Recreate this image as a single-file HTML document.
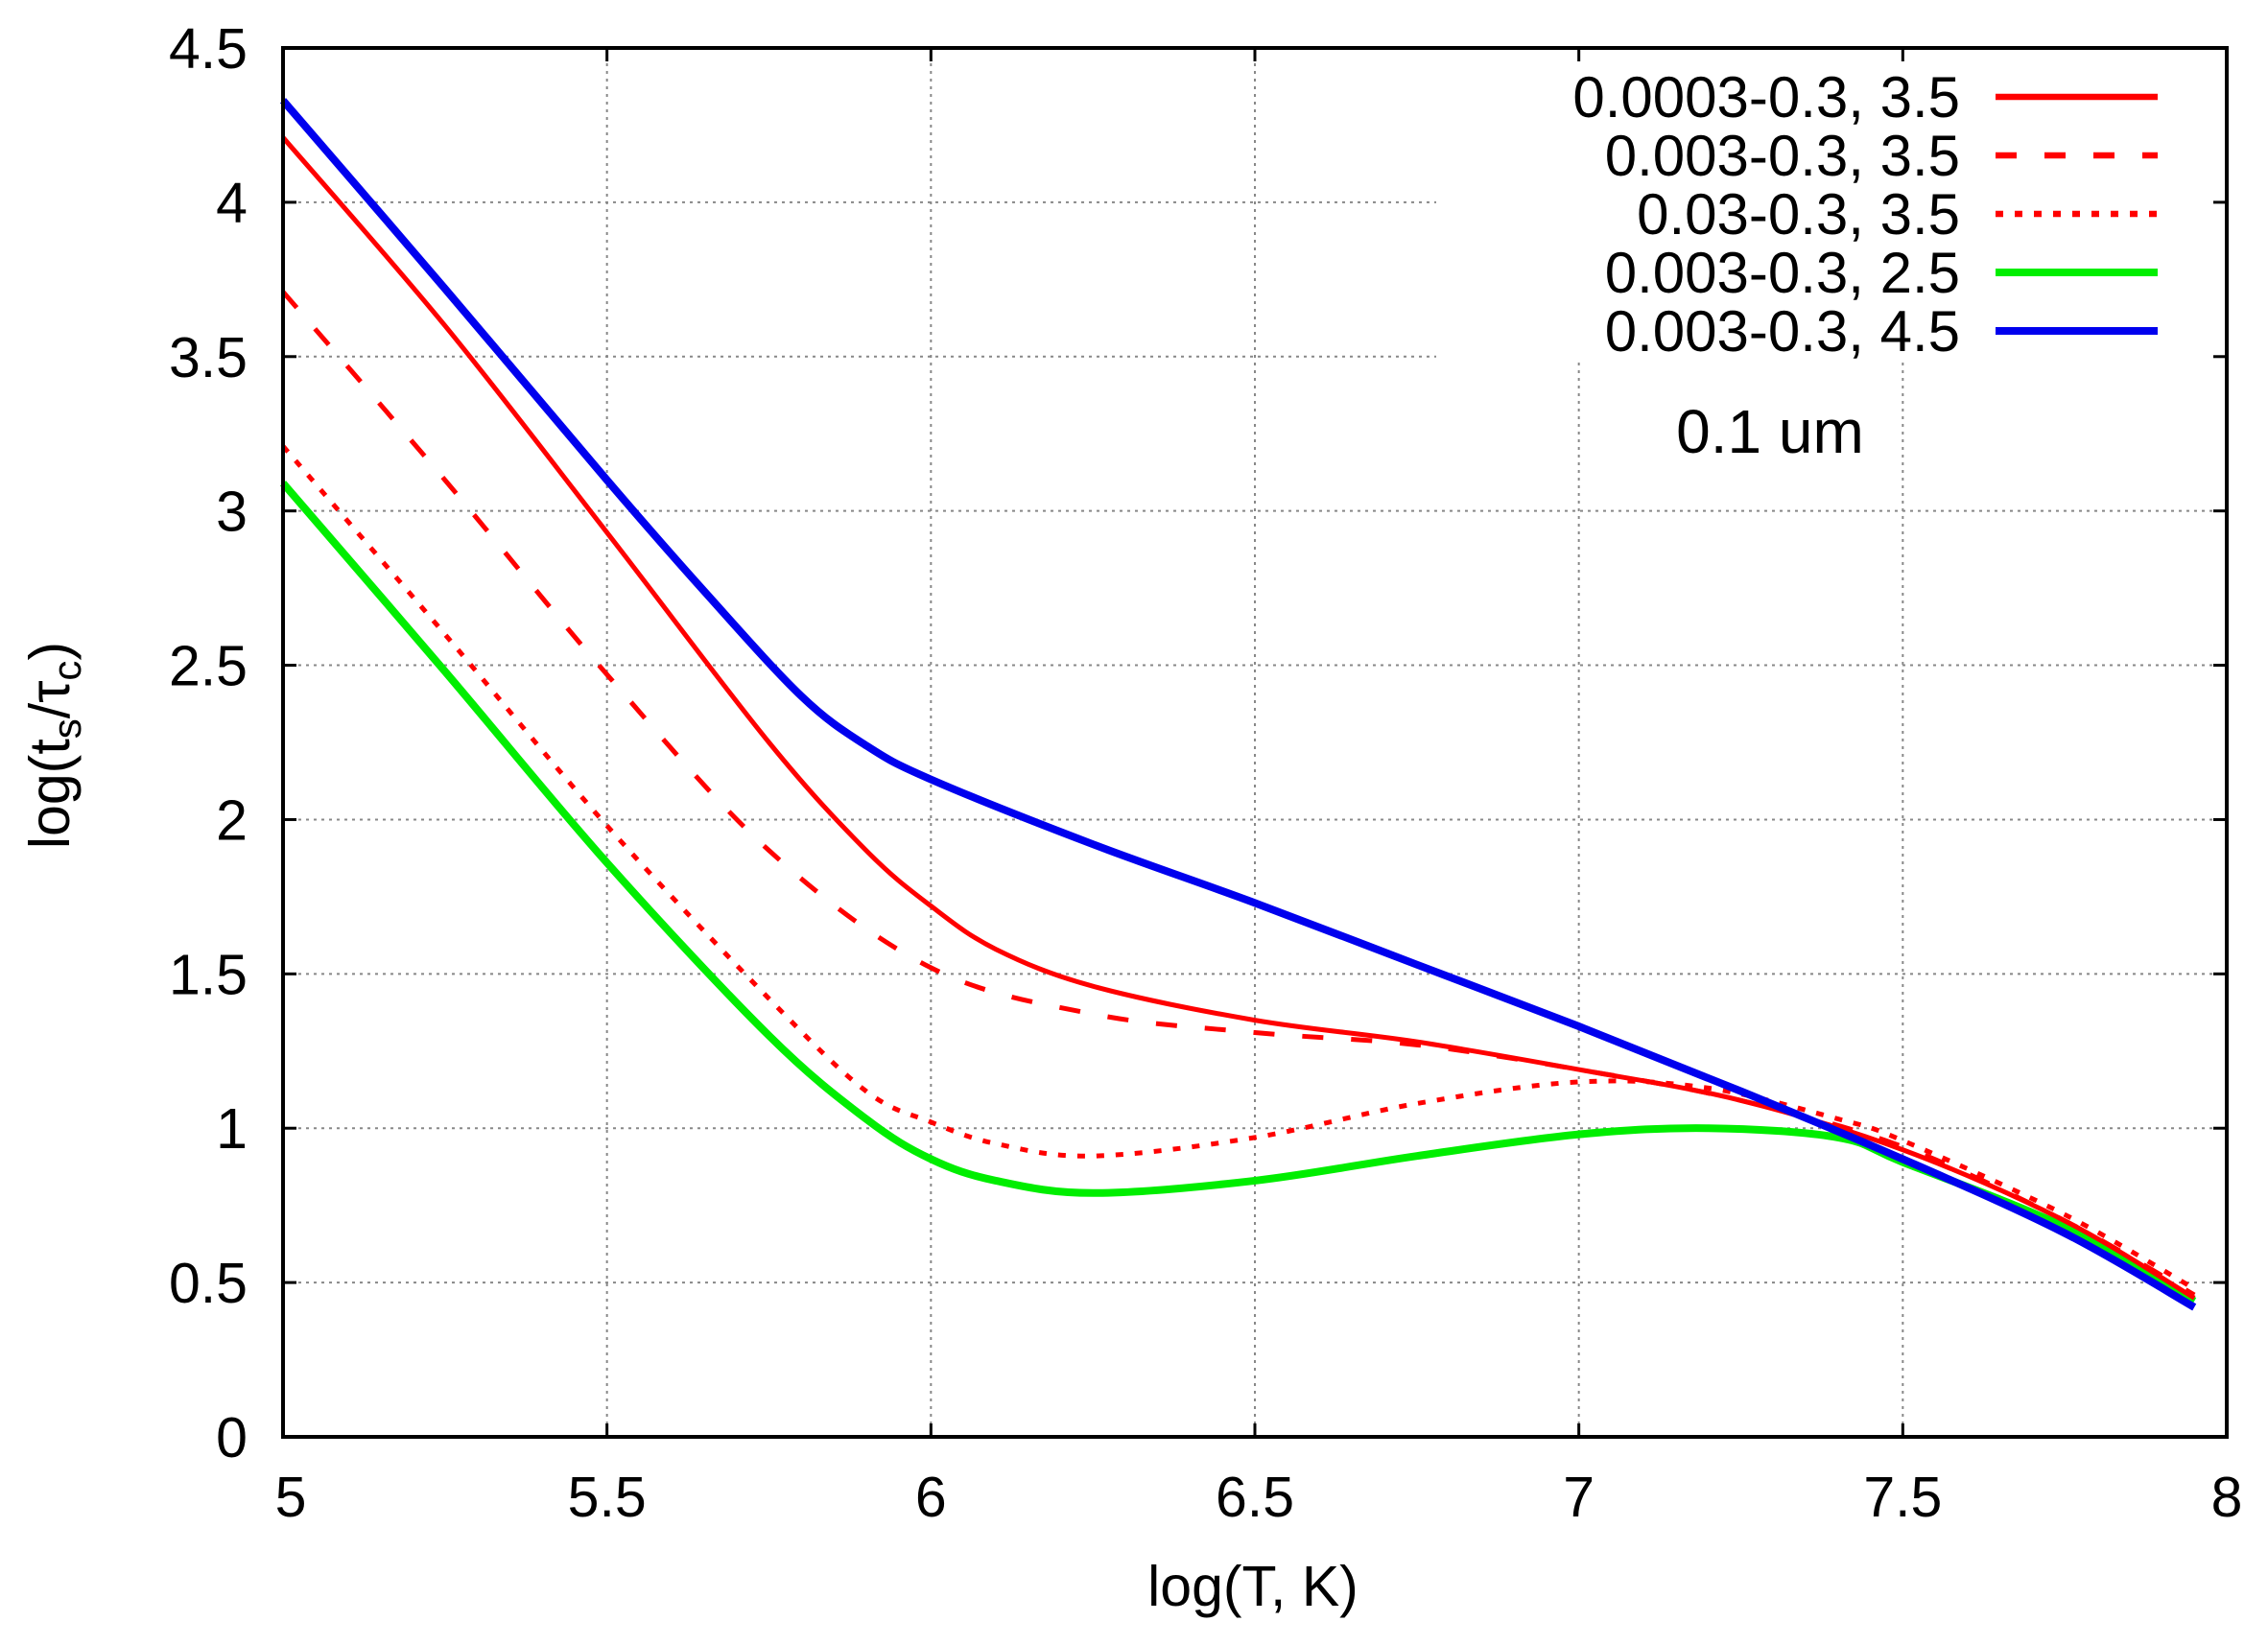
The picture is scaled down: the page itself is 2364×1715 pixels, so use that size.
<!DOCTYPE html>
<html><head><meta charset="utf-8"><style>
body{margin:0;background:#fff}
svg text{font-family:"Liberation Sans",sans-serif;fill:#000}
</style></head><body>
<svg id="chart" width="2364" height="1710" xmlns="http://www.w3.org/2000/svg">
<g id="grid"></g>
<rect x="1497" y="53" width="821" height="321" fill="#fff"/>
<g id="series"></g>
<rect x="295" y="50" width="2026" height="1448" fill="none" stroke="#000" stroke-width="4"/>
<g id="ticks"></g>
<g id="legend"></g>
<text x="1845" y="472" font-size="64" text-anchor="middle">0.1 um</text>
<text x="1306" y="1674" font-size="59" text-anchor="middle">log(T, K)</text>
<text transform="translate(72,777) rotate(-90)" font-size="59" text-anchor="middle">log(t<tspan font-size="42" dy="12">s</tspan><tspan dy="-12">/τ</tspan><tspan font-size="42" dy="12">c</tspan><tspan dy="-12">)</tspan></text>
</svg>
<script>
const xTicks=[5,5.5,6,6.5,7,7.5,8];
const xTickLabels=["5","5.5","6","6.5","7","7.5","8"];
const yTicks=[0,0.5,1,1.5,2,2.5,3,3.5,4,4.5];
const yTickLabels=["0","0.5","1","1.5","2","2.5","3","3.5","4","4.5"];
const xBlue=[5,5.25,5.5,5.65,5.8,5.9,6,6.25,6.5,6.75,7,7.25,7.5,7.75,7.95];
const yBlue=[4.33,3.72,3.1,2.74,2.4,2.24,2.13,1.92,1.73,1.53,1.33,1.12,0.9,0.66,0.42];
const xRedSolid=[5,5.25,5.5,5.75,5.9,6,6.1,6.25,6.5,6.75,7,7.25,7.5,7.75,7.95];
const yRedSolid=[4.21,3.6,2.93,2.25,1.9,1.72,1.58,1.46,1.35,1.28,1.19,1.09,0.93,0.7,0.45];
const xRedDashed=[5,5.25,5.5,5.75,6,6.25,6.5,6.75,7,7.25,7.5,7.75,7.95];
const yRedDashed=[3.71,3.1,2.47,1.9,1.52,1.37,1.31,1.27,1.19,1.09,0.94,0.7,0.46];
const xRedDotted=[5,5.25,5.5,5.75,5.9,6,6.1,6.25,6.5,6.75,7,7.2,7.4,7.5,7.75,7.95];
const yRedDotted=[3.21,2.6,1.98,1.42,1.12,1.02,0.95,0.91,0.97,1.08,1.15,1.13,1.03,0.96,0.72,0.48];
const xGreen=[5,5.25,5.5,5.75,5.9,6,6.1,6.25,6.5,6.75,7,7.2,7.4,7.5,7.75,7.95];
const yGreen=[3.09,2.48,1.86,1.3,1.03,0.9,0.83,0.79,0.83,0.91,0.98,1.0,0.97,0.89,0.68,0.44];
const legendLabels=["0.0003-0.3, 3.5","0.003-0.3, 3.5","0.03-0.3, 3.5","0.003-0.3, 2.5","0.003-0.3, 4.5"];

const NS="http://www.w3.org/2000/svg";
const X0=295,X1=2321,Y0=1498,Y1=50;
const sx=v=>X0+(v-5)/3*(X1-X0);
const sy=v=>Y0-(v/4.5)*(Y0-Y1);
function mk(tag,attrs,parent){const e=document.createElementNS(NS,tag);for(const k in attrs)e.setAttribute(k,attrs[k]);parent.appendChild(e);return e;}
const grid=document.getElementById('grid'),ticks=document.getElementById('ticks');
xTicks.forEach((t,i)=>{
  const x=sx(t);
  if(i>0&&i<xTicks.length-1){const g=mk('line',{x1:x,x2:x,y1:Y1,y2:Y0,stroke:'#888','stroke-width':2,'stroke-dasharray':'3,5'},grid);
  
  }
  mk('line',{x1:x,x2:x,y1:Y0,y2:Y0-14,stroke:'#000','stroke-width':3},ticks);
  mk('line',{x1:x,x2:x,y1:Y1,y2:Y1+14,stroke:'#000','stroke-width':3},ticks);
  const tx=mk('text',{x:x+(i==0?8:0),y:1581,'font-size':59,'text-anchor':'middle'},ticks);
  tx.textContent=xTickLabels[i];
  
  
});
yTicks.forEach((t,i)=>{
  const y=sy(t);
  if(i>0&&i<yTicks.length-1){const g=mk('line',{x1:X0,x2:X1,y1:y,y2:y,stroke:'#888','stroke-width':2,'stroke-dasharray':'3,5'},grid);
  
  }
  mk('line',{x1:X0,x2:X0+14,y1:y,y2:y,stroke:'#000','stroke-width':3},ticks);
  mk('line',{x1:X1,x2:X1-14,y1:y,y2:y,stroke:'#000','stroke-width':3},ticks);
  const tx=mk('text',{x:258,y:y+21,'font-size':59,'text-anchor':'end'},ticks);
  tx.textContent=yTickLabels[i];
  
  
});
function pathD(xs,ys){
  const p=xs.map((v,i)=>[sx(v),sy(ys[i])]);
  let d='M'+p[0][0]+','+p[0][1];
  for(let i=0;i<p.length-1;i++){
    const a=p[i-1]||p[i],b=p[i],c=p[i+1],e=p[i+2]||c;
    d+=' C'+(b[0]+(c[0]-a[0])/6)+','+(b[1]+(c[1]-a[1])/6)+' '+(c[0]-(e[0]-b[0])/6)+','+(c[1]-(e[1]-b[1])/6)+' '+c[0]+','+c[1];
  }
  return d;
}
const styles=[
 {xs:xRedSolid,ys:yRedSolid,c:'#ff0000',w:5,da:'',n:'series-red-solid'},
 {xs:xRedDashed,ys:yRedDashed,c:'#ff0000',w:5,da:'22,29',n:'series-red-dashed'},
 {xs:xRedDotted,ys:yRedDotted,c:'#ff0000',w:5,da:'8,12',n:'series-red-dotted'},
 {xs:xGreen,ys:yGreen,c:'#00ee00',w:8,da:'',n:'series-green'},
 {xs:xBlue,ys:yBlue,c:'#0000ee',w:8,da:'',n:'series-blue'}];
const series=document.getElementById('series'),legend=document.getElementById('legend');
const drawOrder=[3,2,1,0,4];
drawOrder.forEach(k=>{const s=styles[k];
  const p=mk('path',{d:pathD(s.xs,s.ys),fill:'none',stroke:s.c,'stroke-width':s.w,'stroke-dasharray':s.da,'stroke-linejoin':'round'},series);
  
  
});
const rowY=[101,162,223,284,345];
styles.forEach((s,i)=>{
  const t=mk('text',{x:2043,y:rowY[i]+21,'font-size':60,'text-anchor':'end'},legend);
  t.textContent=legendLabels[i];
  
  
  const l=mk('line',{x1:2080,x2:2249,y1:rowY[i],y2:rowY[i],stroke:s.c,'stroke-width':s.w===5?6.5:8,'stroke-dasharray':s.da},legend);
  
  
});
</script>
</body></html>
